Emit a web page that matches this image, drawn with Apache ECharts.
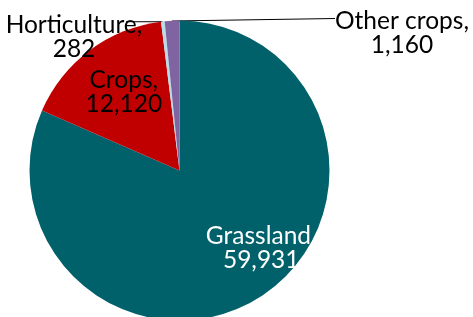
<!DOCTYPE html>
<html>
<head>
<meta charset="utf-8">
<script src="https://cdn.jsdelivr.net/npm/echarts@6/dist/echarts.min.js"></script>
<style>
  html, body { margin: 0; padding: 0; background: #ffffff; }
  #chart { width: 473px; height: 317px; }
</style>
</head>
<body>
<div id="chart"></div>
<script>
  // land use values, clockwise from 12 o'clock
  const categories = ["Grassland", "Crops", "Horticulture", "Other crops"];
  const values = [59931, 12120, 282, 1160];
  const colors = ["#00616B", "#C00000", "#B7DEE8", "#8064A2"];

  const fmt = (v) => v.toLocaleString("en-US");

  // label tweaks per slice
  const labelStyles = [
    { position: "inside", color: "#ffffff", offset: [39, 12] },
    { position: "inside", color: "#000000", offset: [-9, -16] },
    { position: "outside", color: "#000000" },
    { position: "outside", color: "#000000" },
  ];

  const chart = echarts.init(document.getElementById("chart"));

  let data = categories.map((name, i) => ({
    name: name,
    value: values[i],
    itemStyle: { color: colors[i] },
    label: labelStyles[i],
    labelLine: { show: labelStyles[i].position === "outside" },
  }));

  let options = {
    animation: false,
    series: [
      {
        type: "pie",
        center: [179.5, 170.5],
        radius: 150,
        startAngle: 90,
        clockwise: true,
        data: data,
        itemStyle: { borderWidth: 0 },
        avoidLabelOverlap: false,
        label: {
          show: true,
          fontFamily: "Lato",
          fontSize: 24.5,
          lineHeight: 24,
          align: "center",
          overflow: "none",
          formatter: (p) => p.name + ",\n" + fmt(p.value),
        },
        labelLine: {
          length: 0,
          length2: 10,
          lineStyle: { color: "#000000", width: 1 },
        },
        labelLayout: (params) => {
          const r = params.rect;
          if (params.dataIndex === 2) {
            return {
              x: 74,
              y: 37,
              align: "center",
              verticalAlign: "middle",
              labelLinePoints: [
                [r.x + 1.5, r.y + 0.5],
                [r.x + 1.5, r.y + 0.5],
                [126, r.y + 0.5],
              ],
            };
          }
          if (params.dataIndex === 3) {
            return {
              x: 402,
              y: 33,
              align: "center",
              verticalAlign: "middle",
              labelLinePoints: [
                [r.x + r.width / 2, r.y + 0.5],
                [r.x + r.width / 2, r.y + 0.5],
                [335, 18.5],
              ],
            };
          }
        },
      },
    ],
  };

  chart.setOption(options);
</script>
</body>
</html>
